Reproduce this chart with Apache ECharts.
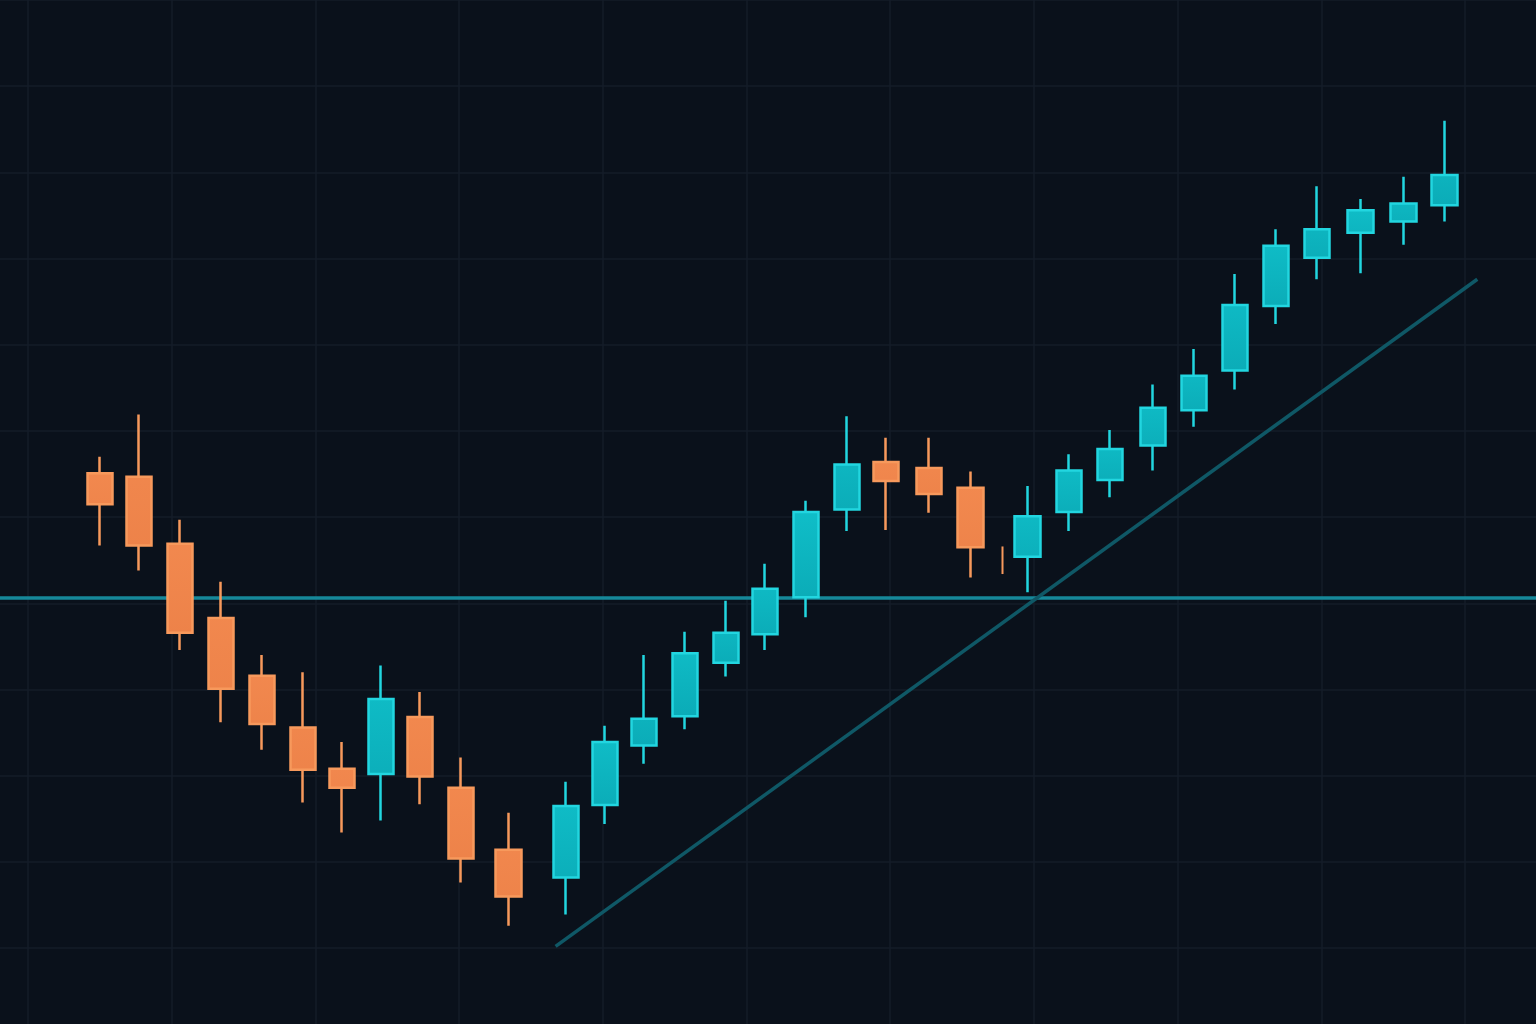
<!DOCTYPE html>
<html style="height: 100%">
<head>
    <meta charset="utf-8">
    <title>Candlestick trend</title>
    <script src="https://cdn.jsdelivr.net/npm/echarts@6.0.0/dist/echarts.min.js"></script>
</head>
<body style="height: 100%; margin: 0; background: #0a111b">
    <div id="chart" style="width: 1536px; height: 1024px"></div>
    <script>
        // session positions (x) and OHLC prices
        const times  = [3.5, 5.4, 7.4, 9.4, 11.4, 13.4, 15.3, 17.2, 19.1, 21.1, 23.4,
                        26.2, 28.1, 30.0, 32.0, 34.0, 35.9, 37.9, 39.9, 41.8, 43.9, 45.9,
                        48.7, 50.7, 52.7, 54.8, 56.8, 58.8, 60.8, 62.8, 64.9, 67.0, 69.0];
        const opens  = [115.1, 114.7, 106.9, 98.3, 91.6, 85.6, 80.8, 80.2, 86.8, 78.6, 71.4,
                        68.2, 76.6, 83.5, 86.9, 93.1, 96.4, 100.7, 110.9, 116.4, 115.7, 113.4,
                        105.4, 110.6, 114.3, 118.3, 122.4, 127.0, 134.5, 140.1, 143.0, 144.3, 146.2];
        const closes = [111.5, 106.7, 96.6, 90.1, 86.0, 80.7, 78.6, 88.9, 79.9, 70.4, 66.0,
                        76.5, 83.9, 86.6, 94.2, 96.6, 101.7, 110.6, 116.1, 114.2, 112.7, 106.5,
                        110.1, 115.4, 117.9, 122.7, 126.4, 134.6, 141.5, 143.4, 145.6, 146.4, 149.7];
        const lows   = [106.7, 103.8, 94.6, 86.2, 83.0, 76.9, 73.4, 74.8, 76.7, 67.6, 62.6,
                        63.9, 74.4, 81.4, 85.4, 91.5, 94.6, 98.4, 108.4, 108.5, 110.5, 103.0,
                        101.3, 108.4, 112.3, 115.4, 120.5, 124.8, 132.4, 137.6, 138.3, 141.6, 144.3];
        const highs  = [117.0, 121.9, 109.7, 102.5, 94.0, 92.0, 83.9, 92.8, 89.7, 82.1, 75.7,
                        79.3, 85.8, 94.0, 96.7, 100.3, 104.6, 111.9, 121.7, 119.2, 119.2, 115.3,
                        113.6, 117.3, 120.1, 125.4, 129.5, 138.2, 143.4, 148.4, 146.9, 149.5, 156.0];

        // the thin stray print between two sessions: [time, open, close, low, high]
        const strayPrint = [47.5, 106.6, 103.4, 103.4, 106.6];

        const supportLevel = 100.6;
        const trendStart = [25.7, 60.2];
        const trendEnd = [70.6, 137.6];

        const up = '#0cb6c1', upEdge = '#22d6e0';
        const down = '#f0864d', downEdge = '#f7995c';

        const candles = times.map((t, i) => [t, opens[i], closes[i], lows[i], highs[i]]);

        const option = {
            animation: false,
            backgroundColor: '#0a111b',
            grid: {
                left: -115.7, right: -72.7, top: 0, bottom: -10.3,
                outerBoundsMode: 'none'
            },
            xAxis: {
                type: 'value',
                min: -7, max: 77, interval: 7,
                axisLine: { show: false }, axisTick: { show: false }, axisLabel: { show: false },
                splitLine: { show: true, lineStyle: { color: '#141d28', width: 1.5 } }
            },
            yAxis: {
                type: 'value',
                min: 50, max: 170, interval: 10,
                axisLine: { show: false }, axisTick: { show: false }, axisLabel: { show: false },
                splitLine: { show: true, lineStyle: { color: '#141d28', width: 1.5 } }
            },
            series: [
                {
                    name: 'trend',
                    type: 'line',
                    z: 1,
                    symbol: 'none',
                    data: [trendStart, trendEnd],
                    lineStyle: { color: '#0f5866', width: 3.5 },
                    markLine: {
                        silent: true,
                        z: 1,
                        symbol: ['none', 'none'],
                        label: { show: false },
                        lineStyle: { color: '#16889a', width: 3.5, type: 'solid' },
                        data: [{ yAxis: supportLevel }]
                    }
                },
                {
                    name: 'price',
                    type: 'candlestick',
                    z: 3,
                    barWidth: 26,
                    data: candles,
                    itemStyle: {
                        color: {
                            type: 'linear', x: 0, y: 0, x2: 0, y2: 1,
                            colorStops: [{ offset: 0, color: '#10c0ca' }, { offset: 1, color: '#0aa8b4' }]
                        },
                        color0: {
                            type: 'linear', x: 0, y: 0, x2: 0, y2: 1,
                            colorStops: [{ offset: 0, color: '#f38a50' }, { offset: 1, color: '#ec8148' }]
                        },
                        borderColor: upEdge,
                        borderColor0: downEdge,
                        borderWidth: 2.5
                    }
                },
                {
                    name: 'stray',
                    type: 'candlestick',
                    z: 3,
                    barWidth: 1,
                    data: [strayPrint],
                    itemStyle: {
                        color: up, color0: down,
                        borderColor: upEdge, borderColor0: downEdge,
                        borderWidth: 2
                    }
                }
            ]
        };

        const chart = echarts.init(document.getElementById('chart'), null, { renderer: 'canvas' });
        chart.setOption(option);
    </script>
</body>
</html>
